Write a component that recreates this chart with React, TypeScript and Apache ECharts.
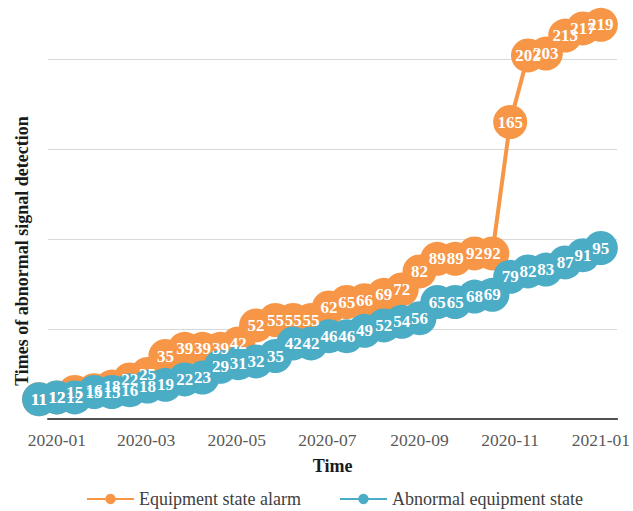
import React, { useEffect, useRef } from "react";
import * as echarts from "echarts";

// Detection dates (roughly every 12 days through 2020)
const dates = [
  "2019-12-20", "2020-01-01", "2020-01-13", "2020-01-26", "2020-02-07", "2020-02-19",
  "2020-03-02", "2020-03-14", "2020-03-27", "2020-04-08", "2020-04-20", "2020-05-02",
  "2020-05-14", "2020-05-27", "2020-06-08", "2020-06-20", "2020-07-02", "2020-07-14",
  "2020-07-26", "2020-08-08", "2020-08-20", "2020-09-01", "2020-09-13", "2020-09-25",
  "2020-10-08", "2020-10-20", "2020-11-01", "2020-11-13", "2020-11-25", "2020-12-08",
  "2020-12-20", "2021-01-01",
];

// Cumulative counts per detection date
const alarmCounts = [
  11, 12, 15, 16, 18, 22, 25, 35, 39, 39, 39, 42, 52, 55, 55, 55,
  62, 65, 66, 69, 72, 82, 89, 89, 92, 92, 165, 202, 203, 213, 217, 219,
];
const abnormalCounts = [
  11, 12, 12, 15, 15, 16, 18, 19, 22, 23, 29, 31, 32, 35, 42, 42,
  46, 46, 49, 52, 54, 56, 65, 65, 68, 69, 79, 82, 83, 87, 91, 95,
];

const seriesNames = ["Equipment state alarm", "Abnormal equipment state"];
const xAxisTitle = "Time";
const yAxisTitle = "Times of abnormal signal detection";

const ORANGE = "#F79646";
const BLUE = "#4BACC6";
const FONT = "'Times New Roman', 'Liberation Serif', serif";

const fmtMonth = (v: number) => {
  const d = new Date(v);
  return `${d.getFullYear()}-${String(d.getMonth() + 1).padStart(2, "0")}`;
};

export default function App() {
  const ref = useRef<HTMLDivElement>(null);

  useEffect(() => {
    document.body.style.margin = "0";
    if (!ref.current) return;
    const chart = echarts.init(ref.current, undefined, { renderer: "svg" });

    const makeSeries = (name: string, values: number[], color: string) => ({
      name,
      type: "line",
      data: dates.map((d, i) => [d, values[i]]),
      symbol: "circle",
      symbolSize: 34,
      clip: false,
      lineStyle: { color, width: 4 },
      itemStyle: { color },
      label: {
        show: true,
        position: "inside",
        color: "#ffffff",
        fontFamily: FONT,
        fontSize: 17,
        fontWeight: "bold",
      },
      emphasis: { disabled: true },
    });

    chart.setOption({
      animation: false,
      grid: { left: 48, right: 13, top: 23, bottom: 92 },
      legend: {
        data: seriesNames,
        left: 81,
        top: 485,
        itemWidth: 47,
        itemHeight: 13,
        itemGap: 38,
        textStyle: { color: "#404040", fontFamily: FONT, fontSize: 18 },
      },
      xAxis: {
        type: "time",
        min: "2019-12-26",
        max: "2021-01-12",
        splitNumber: 6,
        name: xAxisTitle,
        nameLocation: "middle",
        nameGap: 38,
        nameTextStyle: { color: "#1a1a1a", fontFamily: FONT, fontSize: 18, fontWeight: "bold" },
        axisLine: { lineStyle: { color: "#505050", width: 2 } },
        axisTick: { show: false },
        splitLine: { show: false },
        axisLabel: {
          color: "#595959",
          fontFamily: FONT,
          fontSize: 17.5,
          margin: 12,
          showMinLabel: false,
          showMaxLabel: false,
          formatter: fmtMonth,
        },
      },
      yAxis: {
        type: "value",
        min: 0,
        max: 220,
        interval: 50,
        axisLine: { show: false },
        axisTick: { show: false },
        axisLabel: { show: false },
        splitLine: {
          show: true,
          showMinLine: false,
          showMaxLine: false,
          lineStyle: { color: "#d9d9d9", width: 1 },
        },
      },
      graphic: [
        {
          type: "text",
          x: 22,
          y: 251,
          rotation: Math.PI / 2,
          style: {
            text: yAxisTitle,
            fill: "#1a1a1a",
            fontFamily: FONT,
            fontSize: 18,
            fontWeight: "bold",
            textAlign: "center",
            textVerticalAlign: "middle",
          },
        },
      ],
      series: [
        makeSeries(seriesNames[0], alarmCounts, ORANGE),
        makeSeries(seriesNames[1], abnormalCounts, BLUE),
      ],
    });

    return () => chart.dispose();
  }, []);

  return <div ref={ref} style={{ width: 633, height: 511 }} />;
}
